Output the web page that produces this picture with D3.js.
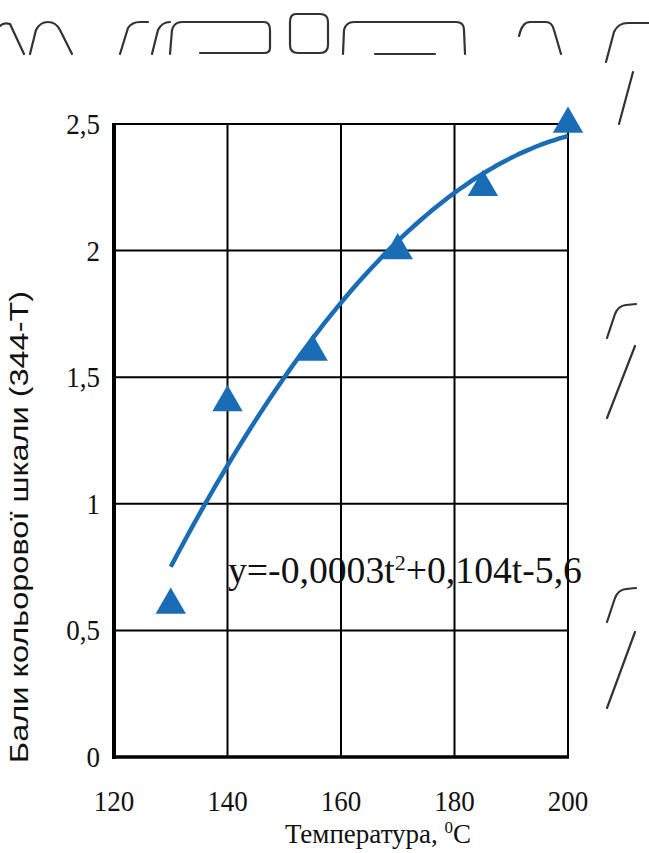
<!DOCTYPE html>
<html>
<head>
<meta charset="utf-8">
<script src="https://cdn.jsdelivr.net/npm/d3@7"></script>
<style>
  html, body { margin: 0; padding: 0; background: #fff; }
  svg { display: block; }
</style>
</head>
<body>
<svg id="chart" width="649" height="853"></svg>
<script>
// Measured colour-scale scores against process temperature
const temperatures = [130, 140, 155, 170, 185, 200];
const scores = [0.6, 1.4, 1.6, 2.0, 2.25, 2.5];

const xTicks = [120, 140, 160, 180, 200];
const yTicks = [0, 0.5, 1, 1.5, 2, 2.5];
const yTickLabels = ["0", "0,5", "1", "1,5", "2", "2,5"];

const xTitle = "Температура, ";
const yTitle = "Бали кольорової шкали (344-Т)";
const equationParts = ["y=-0,0003t", "2", "+0,104t-5,6"];

const svg = d3.select("#chart");
const blue = "#1a6db5";
const serif = "Liberation Serif, Times New Roman, serif";

const x = d3.scaleLinear().domain([120, 200]).range([114, 568]);
const y = d3.scaleLinear().domain([0, 2.5]).range([757, 124]);

// Grid
svg.append("g").selectAll("line").data(xTicks.slice(1)).join("line")
  .attr("x1", d => x(d)).attr("x2", d => x(d))
  .attr("y1", y(2.5)).attr("y2", y(0))
  .attr("stroke", "#000").attr("stroke-width", 2);
svg.append("g").selectAll("line").data(yTicks.slice(1)).join("line")
  .attr("x1", x(120)).attr("x2", x(200))
  .attr("y1", d => y(d)).attr("y2", d => y(d))
  .attr("stroke", "#000").attr("stroke-width", 2);

// Axis lines
svg.append("line").attr("x1", x(120)).attr("x2", x(120))
  .attr("y1", y(2.5) - 1).attr("y2", y(0) + 2)
  .attr("stroke", "#000").attr("stroke-width", 4);
svg.append("line").attr("x1", x(120) - 2).attr("x2", x(200) + 1)
  .attr("y1", y(0)).attr("y2", y(0))
  .attr("stroke", "#000").attr("stroke-width", 3.5);

// Tick labels (slightly tall digits)
svg.append("g").selectAll("text").data(xTicks).join("text")
  .attr("transform", d => `translate(${x(d)},811) scale(1,1.12)`)
  .attr("text-anchor", "middle")
  .attr("font-family", serif)
  .attr("font-size", 27)
  .attr("fill", "#111")
  .text(d => d);

svg.append("g").selectAll("text").data(yTicks).join("text")
  .attr("transform", d => `translate(100,${y(d) + 10}) scale(1,1.12)`)
  .attr("text-anchor", "end")
  .attr("font-family", serif)
  .attr("font-size", 27)
  .attr("fill", "#111")
  .text((d, i) => yTickLabels[i]);

// Axis titles
const xt = svg.append("text")
  .attr("x", 378).attr("y", 843)
  .attr("text-anchor", "middle")
  .attr("font-family", serif)
  .attr("font-size", 27)
  .attr("fill", "#111");
xt.append("tspan").text(xTitle);
xt.append("tspan").attr("font-size", 17).attr("dy", -10).text("0");
xt.append("tspan").attr("dy", 10).text("C");

svg.append("text")
  .attr("transform", "translate(28,527) rotate(-90) scale(1.3,1)")
  .attr("text-anchor", "middle")
  .attr("font-family", "Liberation Sans, Arial, sans-serif")
  .attr("font-size", 25)
  .attr("fill", "#111")
  .text(yTitle);

// Quadratic least-squares trend through the measurements
function quadFit(xs, ys) {
  const n = xs.length;
  const m = d3.mean(xs);
  const u = xs.map(v => v - m);
  const s = k => d3.sum(u, v => Math.pow(v, k));
  const sy = k => d3.sum(u, (v, i) => Math.pow(v, k) * ys[i]);
  const A = [[n, s(1), s(2)], [s(1), s(2), s(3)], [s(2), s(3), s(4)]];
  const B = [sy(0), sy(1), sy(2)];
  for (let i = 0; i < 3; i++) {
    for (let j = i + 1; j < 3; j++) {
      const f = A[j][i] / A[i][i];
      for (let k = i; k < 3; k++) A[j][k] -= f * A[i][k];
      B[j] -= f * B[i];
    }
  }
  const c = [0, 0, 0];
  for (let i = 2; i >= 0; i--) {
    let acc = B[i];
    for (let k = i + 1; k < 3; k++) acc -= A[i][k] * c[k];
    c[i] = acc / A[i][i];
  }
  return t => c[0] + c[1] * (t - m) + c[2] * (t - m) * (t - m);
}
const fit = quadFit(temperatures, scores);
const tMin = d3.min(temperatures), tMax = d3.max(temperatures);
const trend = d3.range(tMin, tMax + 0.001, 1).map(t => [t, fit(t)]);

svg.append("path")
  .datum(trend)
  .attr("fill", "none")
  .attr("stroke", blue)
  .attr("stroke-width", 4.5)
  .attr("d", d3.line().x(d => x(d[0])).y(d => y(d[1])).curve(d3.curveBasis));

// Markers
const tri = d3.symbol().type(d3.symbolTriangle).size(400);
svg.append("g").selectAll("path").data(temperatures).join("path")
  .attr("transform", (d, i) => `translate(${x(d)},${y(scores[i])})`)
  .attr("d", tri)
  .attr("fill", blue);

// Trend equation
const eq = svg.append("text")
  .attr("x", 228).attr("y", 583)
  .attr("font-family", serif)
  .attr("font-size", 37.7)
  .attr("fill", "#111");
eq.append("tspan").text(equationParts[0]);
eq.append("tspan").attr("font-size", 22).attr("dy", -13).text(equationParts[1]);
eq.append("tspan").attr("dy", 13).text(equationParts[2]);

// Cut-off strokes along the page edges
const edge = [
  "M0,26 Q4,22 10,24 L24,54", "M30,54 L36,30 Q40,22 48,22 Q56,22 60,30 L72,54",
  "M120,54 L128,28 Q132,22 140,22 L148,22", "M152,54 L158,30 Q162,22 170,22",
  "M170,54 L172,30 Q174,22 182,22 L264,22 Q270,22 270,30 L270,48 Q270,53 264,53 L200,53",
  "M296,14 L320,14 Q328,14 328,22 L328,45 Q328,53 320,53 L298,53 Q290,53 290,45 L290,22 Q290,14 296,14",
  "M343,54 L344,30 Q346,22 354,22 L456,22 Q464,22 464,30 L465,54", "M375,54 L435,54",
  "M519,36 Q522,22 530,22 L546,22 Q552,22 554,30 L561,54",
  "M606,62 L614,32 Q618,23 628,23 L649,23", "M633,72 L619,124",
  "M607,338 L615,314 Q618,306 626,305 L636,304", "M635,346 L607,418",
  "M607,622 L615,598 Q618,590 626,589 L636,588", "M635,632 L607,708"
];
svg.append("g").selectAll("path").data(edge).join("path")
  .attr("d", d => d)
  .attr("fill", "none")
  .attr("stroke", "#333")
  .attr("stroke-width", 2.2)
  .attr("stroke-linecap", "round");
</script>
</body>
</html>
